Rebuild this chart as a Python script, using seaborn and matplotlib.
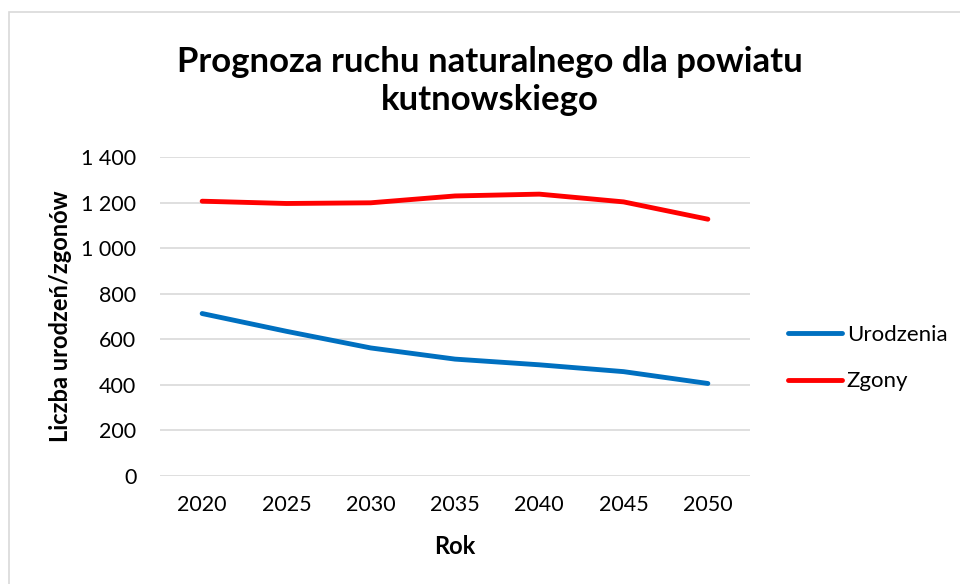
import pandas as pd
import seaborn as sns
import matplotlib.pyplot as plt
from matplotlib.ticker import FuncFormatter, MultipleLocator
from matplotlib.patches import Rectangle

# data
years = ["2020", "2025", "2030", "2035", "2040", "2045", "2050"]
urodzenia = [713, 635, 562, 513, 488, 458, 406]
zgony = [1206, 1196, 1199, 1229, 1237, 1203, 1127]

pal = {"Urodzenia": "#0070C0", "Zgony": "#FF0000"}

df = pd.DataFrame({"Rok": years, "Urodzenia": urodzenia, "Zgony": zgony})
long_df = df.melt(id_vars="Rok", var_name="Seria", value_name="Liczba")

sns.set_theme(style="white")
plt.rcParams['font.family'] = ['Lato', 'DejaVu Sans']
plt.rcParams['text.color'] = "black"
plt.rcParams['axes.labelcolor'] = "black"

fig = plt.figure(figsize=(9.6, 5.84), dpi=100)
ax = fig.add_axes([160 / 960, 1 - 476 / 584, 590 / 960, 319 / 584])

sns.lineplot(data=long_df, x="Rok", y="Liczba", hue="Seria", palette=pal,
             linewidth=3.5, ax=ax, legend=False, sort=False)
for ln in ax.lines:
    ln.set_solid_capstyle("round")
    ln.set_solid_joinstyle("round")

ax.set_xlim(-0.5, len(years) - 0.5)
ax.set_ylim(0, 1400)
ax.yaxis.set_major_locator(MultipleLocator(200))
ax.yaxis.set_major_formatter(FuncFormatter(lambda v, p: f"{int(v):,}".replace(",", " ")))
ax.grid(axis="y", color="#D9D9D9", linewidth=1.2)
ax.set_axisbelow(True)
for s in ax.spines.values():
    s.set_visible(False)
ax.tick_params(axis="both", length=0, labelsize=15.5, colors="black")
ax.tick_params(axis="y", pad=17)
ax.tick_params(axis="x", pad=14)

ax.set_xlabel("Rok", fontsize=17, fontweight="bold", labelpad=14)
ax.set_ylabel("Liczba urodzeń/zgonów", fontsize=17, fontweight="bold", labelpad=7)

fig.text(490 / 960, 1 - 81 / 584, "Prognoza ruchu naturalnego dla powiatu\nkutnowskiego",
         ha="center", va="center", fontsize=25, fontweight="bold", linespacing=1.2)

# legend on the right
handles = [plt.Line2D([], [], color=pal[k], linewidth=3.5, solid_capstyle="round") for k in pal]
fig.legend(handles, list(pal.keys()), loc="center left",
           bbox_to_anchor=(768 / 960, 1 - 358 / 584), frameon=False,
           fontsize=16, handlelength=2.45, handletextpad=0.2, labelspacing=1.2)

# chart border
fig.patches.append(Rectangle((9 / 960, -0.1), 1.1, 1 - 12 / 584 + 0.1,
                             transform=fig.transFigure, fill=False,
                             edgecolor="#D9D9D9", linewidth=1.2))

fig.savefig("out.png", dpi=100, facecolor="white")
